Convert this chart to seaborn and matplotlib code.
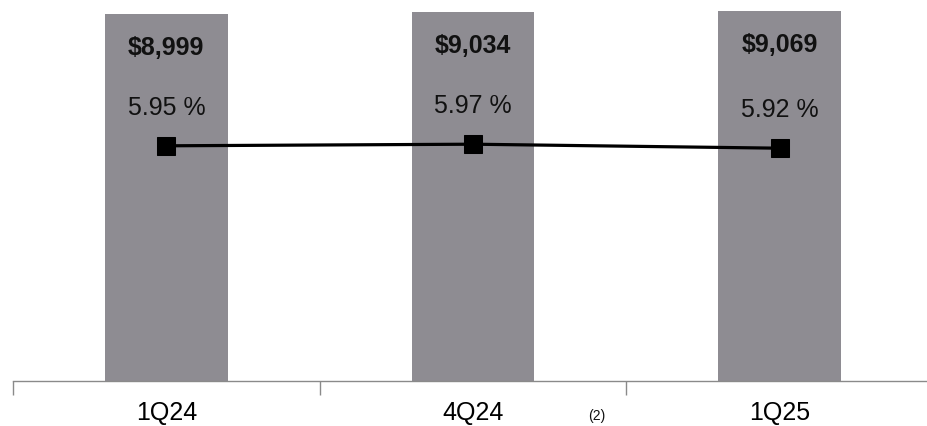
import matplotlib
matplotlib.use("Agg")
import matplotlib.pyplot as plt
import seaborn as sns
import pandas as pd

categories = ["1Q24", "4Q24", "1Q25"]
balances = [8999, 9034, 9069]
balance_labels = ["$8,999", "$9,034", "$9,069"]
rates = [5.95, 5.97, 5.92]
rate_labels = ["5.95 %", "5.97 %", "5.92 %"]

sns.set_theme(style="white")
plt.rcParams["font.family"] = ["Liberation Sans", "DejaVu Sans"]

df = pd.DataFrame({"cat": categories, "bal": balances, "rate": rates})

fig = plt.figure(figsize=(9.28, 4.27), dpi=100)
ax = fig.add_axes([13 / 928, 45 / 427, 920 / 928, 382 / 427])

sns.barplot(data=df, x="cat", y="bal", ax=ax, color="#8e8c92", width=0.4,
            saturation=1, edgecolor="none")
ax.set_xlim(-0.5, 2.5)
ax.set_ylim(0, 9360)
ax.set_xlabel("")
ax.set_ylabel("")
ax.set_yticks([])
for s in ["top", "right", "left"]:
    ax.spines[s].set_visible(False)
ax.spines["bottom"].set_color("#8a8a8a")
ax.spines["bottom"].set_linewidth(1.0)
ax.set_xticks([0, 1, 2])
ax.set_xticklabels(categories, fontsize=18, color="#000000")
ax.set_xticks([-0.5, 0.5, 1.5, 2.5], minor=True)
ax.tick_params(axis="x", which="major", length=0, pad=14)
ax.tick_params(axis="x", which="minor", length=10, width=1.0, color="#8a8a8a", bottom=True)

for i, (v, lab) in enumerate(zip(balances, balance_labels)):
    ax.annotate(lab, xy=(i, v), xytext=(0, -33), textcoords="offset pixels",
                ha="center", va="center", fontsize=18, fontweight="bold", color="#111111")

ax2 = ax.twinx()
ax2.set_position(ax.get_position())
sns.lineplot(data=df, x="cat", y="rate", ax=ax2, color="black", linewidth=2.3,
             marker="s", markersize=13, markeredgecolor="black", sort=False)
ax2.set_ylim(3.01, 7.785)
ax2.set_yticks([])
ax2.set_ylabel("")
ax2.set_xlabel("")
for s in ["top", "right", "left", "bottom"]:
    ax2.spines[s].set_visible(False)
ax2.grid(False)

for i, (r, lab) in enumerate(zip(rates, rate_labels)):
    ax2.annotate(lab, xy=(i, r), xytext=(0, 39), textcoords="offset pixels",
                 ha="center", va="center", fontsize=18, color="#111111")

fig.text(597 / 928, 1 - 416 / 427, "(2)", fontsize=10, ha="center", va="center", color="#111111")

fig.savefig("out.png", dpi=100)
